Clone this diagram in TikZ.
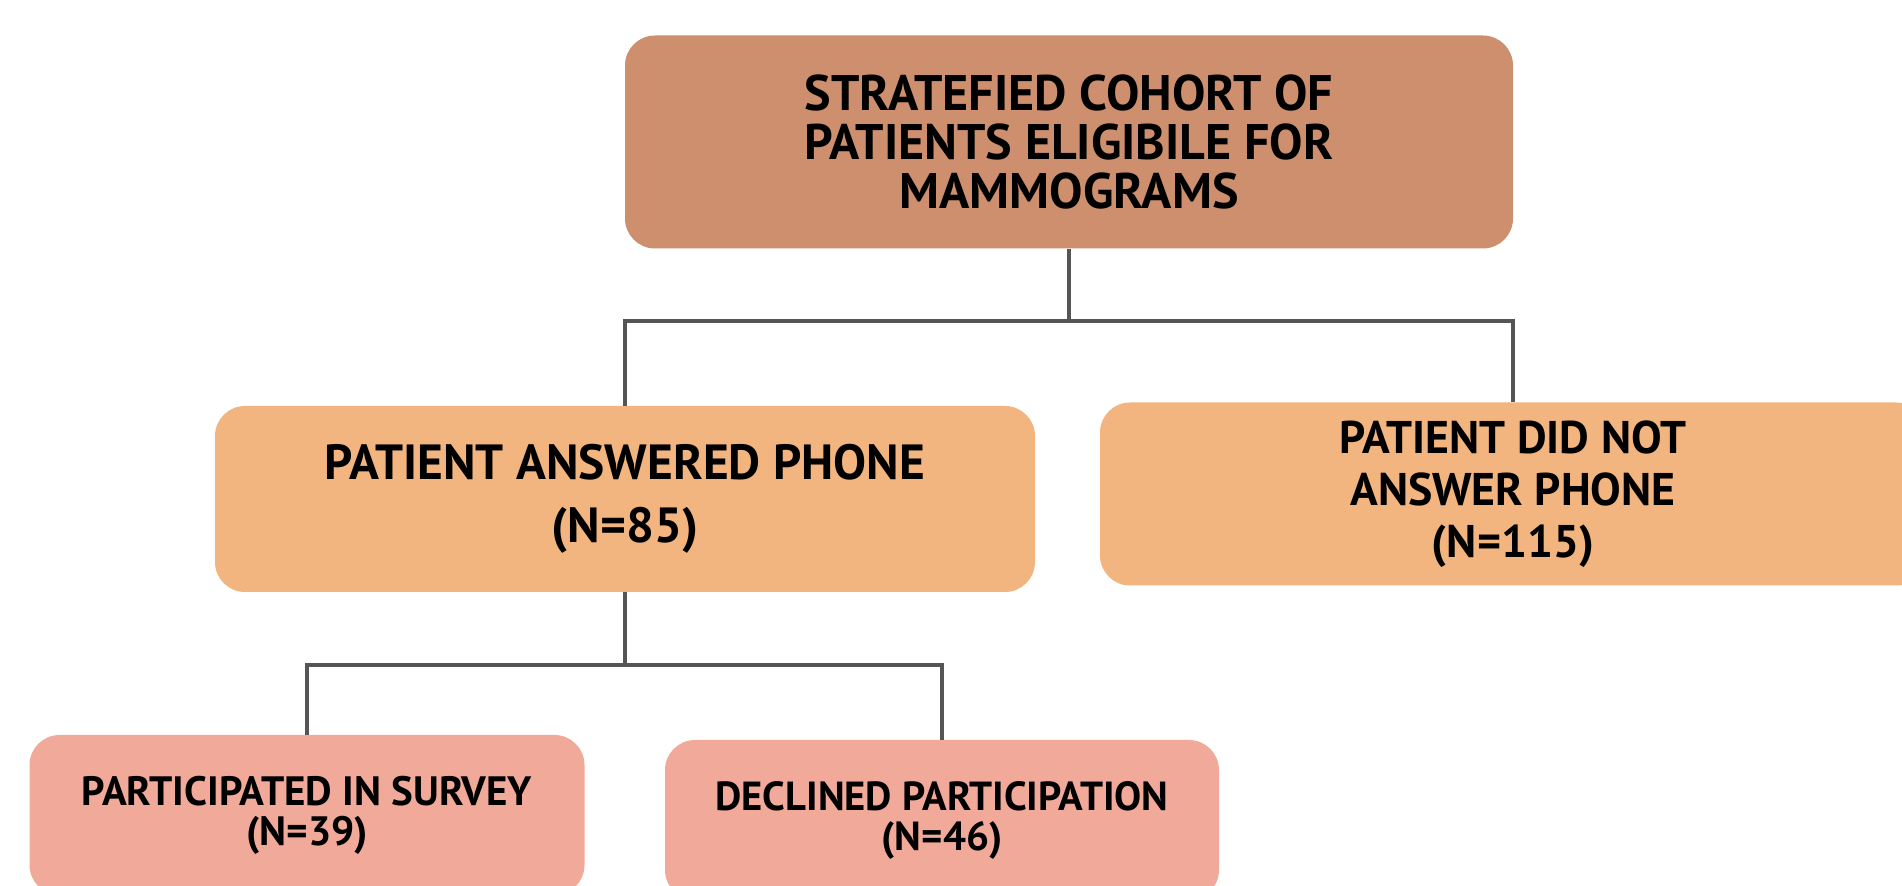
\documentclass[tikz,border=0pt]{standalone}
\usepackage{fontspec}
\setmainfont{PT Sans}
\definecolor{topc}{HTML}{CD8F6D}
\definecolor{midc}{HTML}{F3B57F}
\definecolor{botc}{HTML}{F1A99A}
\definecolor{linec}{HTML}{555555}
\begin{document}
\begin{tikzpicture}[x=0.5pt,y=-0.5pt,
  box/.style={rounded corners=15pt, inner sep=0pt, align=center, font=\bfseries, text=black},
  conn/.style={draw=linec, line width=1.6pt}]
\useasboundingbox (0,0) rectangle (1902,886);
\clip (0,0) rectangle (1902,886);
\node[box, fill=topc, minimum width=444pt, minimum height=106.5pt, font=\bfseries\fontsize{25}{24.5}\selectfont] (top) at (1069,142) {STRATEFIED COHORT OF\\PATIENTS ELIGIBILE FOR\\MAMMOGRAMS};
\node[box, fill=midc, minimum width=410pt, minimum height=93pt, font=\bfseries\fontsize{24.7}{31.5}\selectfont] (ml) at (625,499) {PATIENT ANSWERED PHONE\\(N=85)};
\node[box, fill=midc, minimum width=413pt, minimum height=91.5pt, font=\bfseries\fontsize{22.9}{26}\selectfont] (mr) at (1513,494) {PATIENT DID NOT\\ANSWER PHONE\\(N=115)};
\node[box, fill=botc, minimum width=277.5pt, minimum height=80pt, font=\bfseries\fontsize{20.5}{20}\selectfont] (bl) at (307,815) {PARTICIPATED IN SURVEY\\(N=39)};
\node[box, fill=botc, minimum width=277pt, minimum height=80pt, font=\bfseries\fontsize{20.3}{20}\selectfont] (br) at (942,820) {DECLINED PARTICIPATION\\(N=46)};
\coordinate (j1) at (1069,321);
\coordinate (j2) at (625,665);
\draw[conn] (top.south) -- (top.south |- j1) -| (ml.north);
\draw[conn] (top.south |- j1) -| (mr.north);
\draw[conn] (ml.south) -- (ml.south |- j2) -| (bl.north);
\draw[conn] (ml.south |- j2) -| (br.north);
\end{tikzpicture}
\end{document}
